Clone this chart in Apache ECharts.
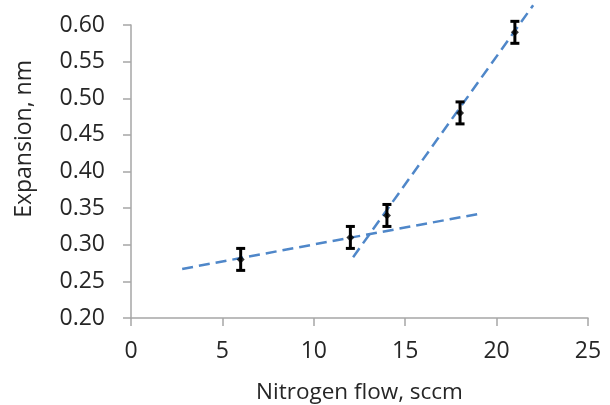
<!DOCTYPE html>
<html>
<head>
<meta charset="utf-8">
<script src="https://cdn.jsdelivr.net/npm/echarts@6/dist/echarts.min.js"></script>
<style>
  html, body { margin: 0; padding: 0; background: #fff; }
  #chart { width: 610px; height: 405px; }
</style>
</head>
<body>
<div id="chart"></div>
<script>
// Measured expansion vs nitrogen flow
const flow = [6, 12, 14, 18, 21];
const expansion = [0.28, 0.31, 0.34, 0.48, 0.59];
const errorBar = [0.015, 0.015, 0.015, 0.015, 0.015];

// Two linear trend segments (low-flow and high-flow regimes)
const trendLowX = [2.8, 19.2];
const trendLowY = [0.267, 0.343];
const trendHighX = [12.15, 22.0];
const trendHighY = [0.283, 0.627];

const xTicks = [0, 5, 10, 15, 20, 25];
const yTicks = [0.20, 0.25, 0.30, 0.35, 0.40, 0.45, 0.50, 0.55, 0.60];

const FONT = '"Open Sans", sans-serif';
const TEXT = '#262626';
const AXIS = '#a6a6a6';
const BLUE = '#4f87c9';

const points = flow.map((x, i) => [x, expansion[i]]);
const errData = flow.map((x, i) => [x, expansion[i], errorBar[i]]);
const lowLine = trendLowX.map((x, i) => [x, trendLowY[i]]);
const highLine = trendHighX.map((x, i) => [x, trendHighY[i]]);

const chart = echarts.init(document.getElementById('chart'), null, { renderer: 'canvas' });

chart.setOption({
  animation: false,
  backgroundColor: '#fff',
  grid: { left: 131, right: 22, top: 25, bottom: 87, containLabel: false, outerBoundsMode: 'none' },
  xAxis: {
    type: 'value',
    min: xTicks[0],
    max: xTicks[xTicks.length - 1],
    interval: 5,
    name: 'Nitrogen flow, sccm',
    nameLocation: 'middle',
    nameGap: 63,
    nameTextStyle: { fontFamily: FONT, fontSize: 22.5, color: TEXT },
    axisLine: { show: true, lineStyle: { color: AXIS, width: 1.5 } },
    axisTick: { show: true, length: 8, lineStyle: { color: AXIS, width: 1.5 } },
    axisLabel: { fontFamily: FONT, fontSize: 23, color: TEXT, margin: 22,
      formatter: v => String(v) },
    splitLine: { show: false }
  },
  yAxis: {
    type: 'value',
    min: yTicks[0],
    max: yTicks[yTicks.length - 1],
    interval: 0.05,
    axisLine: { show: true, lineStyle: { color: AXIS, width: 1.5 } },
    axisTick: { show: true, length: 8, lineStyle: { color: AXIS, width: 1.5 } },
    axisLabel: { fontFamily: FONT, fontSize: 23, color: TEXT, margin: 26,
      formatter: v => v.toFixed(2) },
    splitLine: { show: false }
  },
  graphic: [{
    type: 'text',
    left: 13,
    top: 60,
    rotation: Math.PI / 2,
    style: {
      text: 'Expansion, nm',
      font: '23px "Open Sans", sans-serif',
      fill: TEXT
    },
    originX: 0, originY: 0
  }],
  series: [
    {
      type: 'line',
      data: lowLine,
      showSymbol: false,
      symbol: 'none',
      clip: false,
      z: 2,
      lineStyle: { color: BLUE, width: 2.5, type: [11, 6] }
    },
    {
      type: 'line',
      data: highLine,
      showSymbol: false,
      symbol: 'none',
      clip: false,
      z: 2,
      lineStyle: { color: BLUE, width: 2.5, type: [11, 6] }
    },
    {
      type: 'custom',
      z: 3,
      data: errData,
      renderItem: function (params, api) {
        const x = api.value(0), y = api.value(1), e = api.value(2);
        const top = api.coord([x, y + e]);
        const bot = api.coord([x, y - e]);
        const hw = 4.5;
        const style = { stroke: '#000', lineWidth: 3 };
        return {
          type: 'group',
          children: [
            { type: 'line', shape: { x1: top[0], y1: top[1], x2: bot[0], y2: bot[1] }, style },
            { type: 'line', shape: { x1: top[0] - hw, y1: top[1], x2: top[0] + hw, y2: top[1] }, style },
            { type: 'line', shape: { x1: bot[0] - hw, y1: bot[1], x2: bot[0] + hw, y2: bot[1] }, style }
          ]
        };
      }
    },
    {
      type: 'scatter',
      z: 4,
      data: points,
      symbol: 'diamond',
      symbolSize: 8,
      itemStyle: { color: '#000' }
    }
  ]
});
</script>
</body>
</html>
